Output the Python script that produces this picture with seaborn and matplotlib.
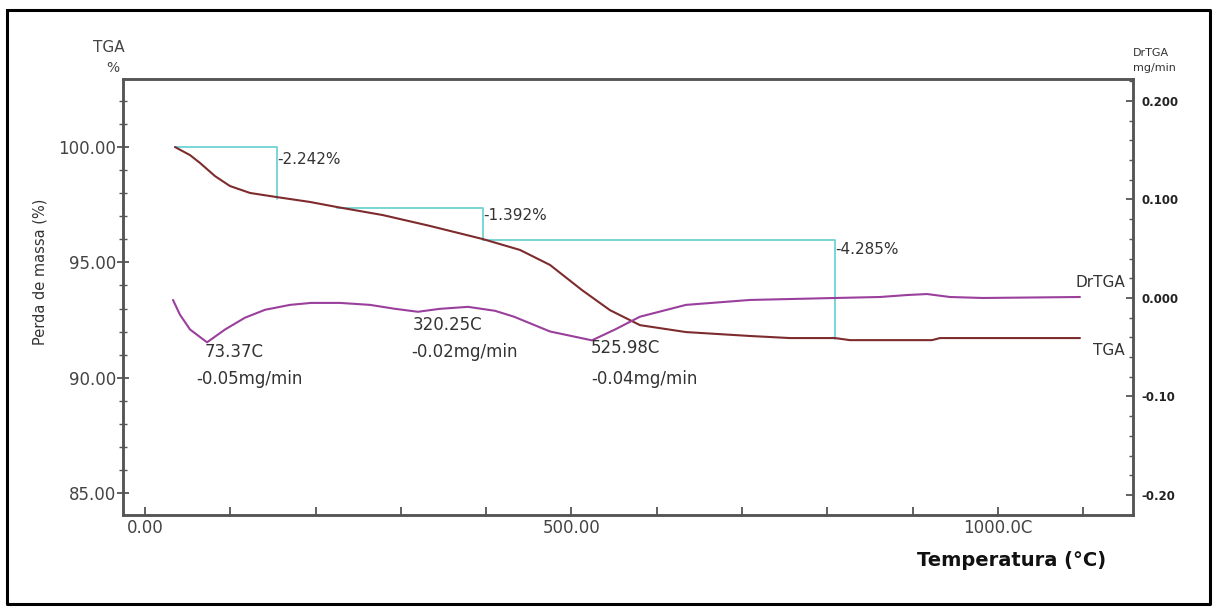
import numpy as np
import pandas as pd
import matplotlib
matplotlib.use("Agg")
import matplotlib.pyplot as plt
import seaborn as sns
from matplotlib.ticker import FixedLocator, MultipleLocator, FixedFormatter
from matplotlib.lines import Line2D

# ---------------- data ----------------
temp_tga = [35.2, 52.8, 64.5, 82.1, 99.6, 123.1, 154.7, 193.4, 225.1, 279.0, 334.1,
            396.2, 439.6, 474.8, 512.3, 545.1, 580.3, 634.2, 709.3, 756.2, 808.9,
            826.5, 922.6, 932.0, 1096.1]
mass_tga = [100.00, 99.65, 99.31, 98.74, 98.31, 98.01, 97.83, 97.62, 97.40, 97.05, 96.58,
            96.01, 95.54, 94.89, 93.80, 92.93, 92.28, 91.98, 91.81, 91.72, 91.72,
            91.63, 91.63, 91.72, 91.72]

temp_dtg = [32.8, 41.0, 52.8, 72.7, 93.8, 117.2, 140.7, 170.0, 194.6, 228.6, 263.8,
            293.1, 320.0, 345.8, 378.7, 410.3, 432.6, 474.8, 524.0, 551.0, 580.3,
            634.2, 709.3, 808.9, 861.7, 893.3, 916.8, 943.7, 982.4, 1096.1]
dtg_rate = [-0.002, -0.017, -0.032, -0.045, -0.032, -0.020, -0.012, -0.007, -0.005, -0.005, -0.007,
            -0.011, -0.014, -0.011, -0.009, -0.013, -0.019, -0.034, -0.043, -0.032, -0.019,
            -0.007, -0.002, 0.000, 0.001, 0.003, 0.004, 0.001, 0.000, 0.001]

step_start = [35.2, 225.1, 396.2]
step_end = [154.7, 396.2, 808.9]
step_top = [100.0, 97.36, 95.97]
step_loss = [2.242, 1.392, 4.285]

peak_temps = [73.37, 320.25, 525.98]
peak_rates = [-0.05, -0.02, -0.04]

x_tick_vals = [0, 500, 1000]
x_tick_labels = ["0.00", "500.00", "1000.0C"]
y_tick_vals = [85, 90, 95, 100]
y_tick_labels = ["85.00", "90.00", "95.00", "100.00"]
y2_tick_vals = [0.2, 0.1, 0.0, -0.1, -0.2]
y2_tick_labels = ["0.200", "0.100", "0.000", "-0.10", "-0.20"]

# ---------------- style ----------------
sns.set_theme(style="white")
plt.rcParams['font.family'] = ['DejaVu Sans']

W, H = 1216, 611
fig = plt.figure(figsize=(W / 100, H / 100), dpi=100)
fig.patch.set_facecolor("white")

L, R, T, B = 123, 1133, 79, 515
ax = fig.add_axes([L / W, 1 - B / H, (R - L) / W, (B - T) / H])
ax2 = ax.twinx()

TGA_COL = "#7e2b2e"
DTG_COL = "#9a3f9c"
STEP_COL = "#6fd3d3"
TXT = "#333333"
SPINE = "#555555"

df_tga = pd.DataFrame({"temp": temp_tga, "mass": mass_tga})
df_dtg = pd.DataFrame({"temp": temp_dtg, "rate": dtg_rate})

# step lines
for s, e, top, loss in zip(step_start, step_end, step_top, step_loss):
    ax.plot([s, e, e], [top, top, top - loss], color=STEP_COL, lw=1.3, zorder=2)

sns.lineplot(data=df_tga, x="temp", y="mass", ax=ax, color=TGA_COL, lw=1.5, sort=False, zorder=3)
sns.lineplot(data=df_dtg, x="temp", y="rate", ax=ax2, color=DTG_COL, lw=1.5, sort=False, zorder=3)

ax.set_xlim(-25.8, 1158.3)
ax.set_ylim(84.05, 102.95)
ax2.set_ylim(-0.2203, 0.2223)

# step labels
step_label_pos = [(155, 99.48), (396, 97.05), (809, 95.54)]
for (xx, yy), loss in zip(step_label_pos, step_loss):
    ax.text(xx, yy, f"-{loss:.3f}%", ha="left", va="center", fontsize=11, color=TXT)

# peak labels
peak_t_pos = [(70.3, -0.0548), (314.2, -0.0274), (522.9, -0.0508)]
peak_r_pos = [(59.8, -0.0822), (311.8, -0.0548), (522.9, -0.0822)]
for t, r, pt, pr in zip(peak_temps, peak_rates, peak_t_pos, peak_r_pos):
    ax2.text(pt[0], pt[1], f"{t:.2f}C", ha="left", va="center", fontsize=12, color=TXT)
    ax2.text(pr[0], pr[1], f"{r:.2f}mg/min", ha="left", va="center", fontsize=12, color=TXT)

# curve end labels
ax2.text(1149, 0.016, "DrTGA", ha="right", va="center", fontsize=11, color=TXT)
ax2.text(1149, -0.0538, "TGA", ha="right", va="center", fontsize=11, color=TXT)

# axes labels
ax.set_xlabel("Temperatura (°C)", fontsize=14, fontweight="bold", color="#111111")
ax.xaxis.set_label_coords((1012 - L) / (R - L), (B - 560) / (B - T))
ax.xaxis.label.set_va("center")
ax.set_ylabel("Perda de massa (%)", fontsize=10.5, color=TXT)
ax.yaxis.set_label_coords((40 - L) / (R - L), (B - 272) / (B - T))
ax.yaxis.label.set_va("center")
ax2.set_ylabel("")

fig.text(109 / W, 1 - 48 / H, "TGA", ha="center", va="center", fontsize=11, color="#444444")
fig.text(113 / W, 1 - 68 / H, "%", ha="center", va="center", fontsize=10, color="#444444")
fig.text(1151 / W, 1 - 53 / H, "DrTGA", ha="center", va="center", fontsize=8, color="#333333")
fig.text(1154 / W, 1 - 68 / H, "mg/min", ha="center", va="center", fontsize=8, color="#333333")

# ticks
ax.xaxis.set_major_locator(FixedLocator(x_tick_vals))
ax.xaxis.set_major_formatter(FixedFormatter(x_tick_labels))
ax.xaxis.set_minor_locator(MultipleLocator(100))
ax.yaxis.set_major_locator(FixedLocator(y_tick_vals))
ax.yaxis.set_major_formatter(FixedFormatter(y_tick_labels))
ax.yaxis.set_minor_locator(MultipleLocator(1))
ax2.yaxis.set_major_locator(FixedLocator(y2_tick_vals))
ax2.yaxis.set_major_formatter(FixedFormatter(y2_tick_labels))
ax2.yaxis.set_minor_locator(MultipleLocator(0.02))

ax.tick_params(axis="x", which="both", direction="in", length=6, width=1.3, color=SPINE,
               labelsize=12, labelcolor="#444444", pad=3, bottom=True, top=False)
ax.tick_params(axis="y", which="major", direction="inout", length=8, width=1.3, color=SPINE,
               labelsize=12, labelcolor="#444444", pad=1, left=True, right=False)
ax.tick_params(axis="y", which="minor", direction="inout", length=6, width=1.0, color=SPINE,
               left=True, right=False)
ax2.tick_params(axis="y", which="major", direction="in", length=5, width=1.3, color=SPINE,
                labelsize=8.5, labelcolor="#222222", pad=6, right=True, left=False)
ax2.tick_params(axis="y", which="minor", direction="in", length=3, width=1.0, color=SPINE,
                right=True, left=False)
for lbl in ax2.get_yticklabels():
    lbl.set_fontweight("bold")

for a in (ax, ax2):
    for sp in a.spines.values():
        sp.set_color(SPINE)
        sp.set_linewidth(1.8)
ax.grid(False)
ax2.grid(False)

# outer frame
frame_kw = dict(color="black", lw=2.2, transform=fig.transFigure, clip_on=False)
x0, x1 = 6.5 / W, 1209.5 / W
y0, y1 = 1 - 604 / H, 1 - 9.5 / H
fig.add_artist(Line2D([x0, x1, x1, x0, x0], [y1, y1, y0, y0, y1], **frame_kw))

fig.savefig("out.png", dpi=100)
